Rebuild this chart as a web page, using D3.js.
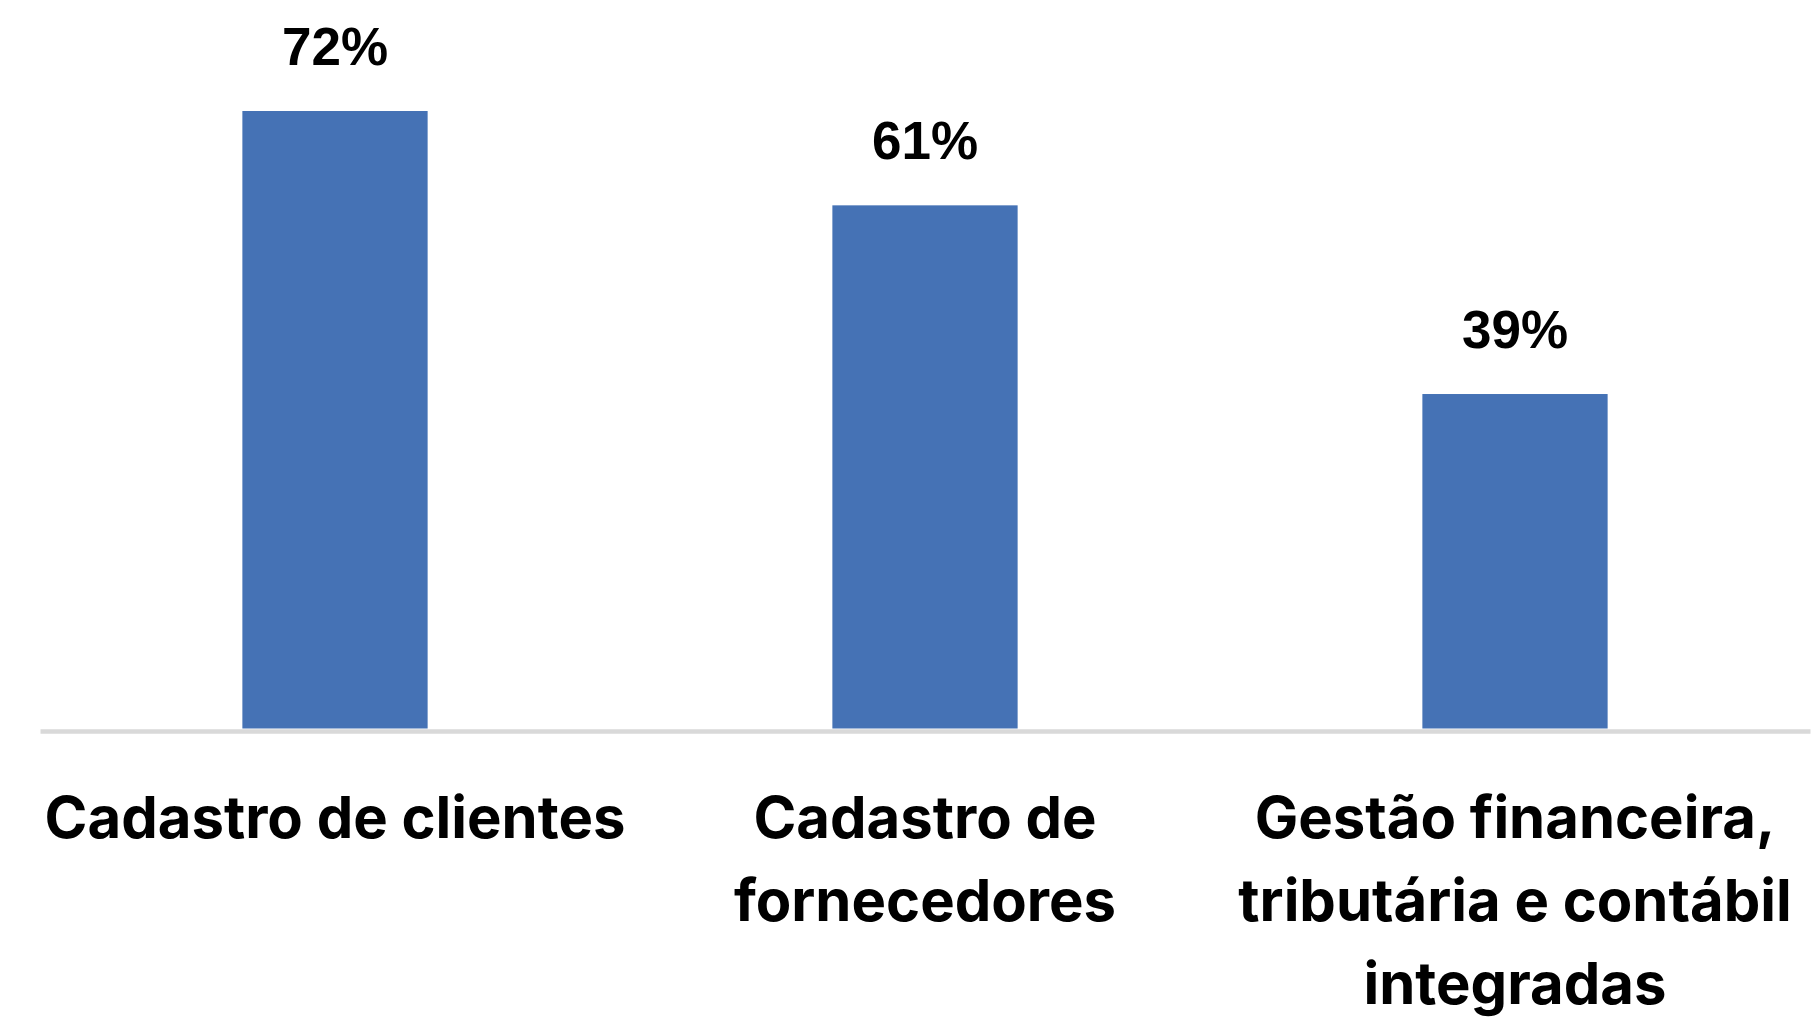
<!DOCTYPE html>
<html>
<head>
<meta charset="utf-8">
<script src="https://cdn.jsdelivr.net/npm/d3@7"></script>
<style>
	html, body { margin: 0; padding: 0; background: #fff; }
	svg { display: block; }
	.cat-label { font-family: Inter, "Noto Sans", sans-serif; font-weight: 700; fill: #000; }
	.val-label { font-family: "Liberation Sans", Arial, sans-serif; font-weight: 700; fill: #000; }
</style>
</head>
<body>
<div id="chart"></div>
<script>
/* global d3 */

var categories = ["Cadastro de clientes", "Cadastro de fornecedores", "Gestão financeira, tributária e contábil integradas"];
var labelLines = [
	["Cadastro de clientes"],
	["Cadastro de", "fornecedores"],
	["Gestão financeira,", "tributária e contábil", "integradas"]
];
var values = [72, 61, 39];

(function() {
	'use strict';

	var width = 1812,
		height = 1017,
		baseY = 728.5,
		barColor = "#4572b5",
		axisColor = "#d9d9d9",
		catFont = 58,
		lineGap = 83,
		valFont = 53;

	var svg = d3.select("#chart").append("svg")
		.attr("width", width)
		.attr("height", height);

	var x = d3.scaleBand()
		.domain(categories)
		.range([40, 1810])
		.paddingInner(0.686)
		.paddingOuter(0.343);

	var y = d3.scaleLinear()
		.domain([0, 72])
		.range([baseY, 111]);

	var data = categories.map(function(c, i) {
		return { cat: c, value: values[i], lines: labelLines[i] };
	});

	// bars
	svg.append("g")
		.selectAll("rect")
		.data(data)
		.join("rect")
		.attr("x", function(d) { return x(d.cat); })
		.attr("y", function(d) { return y(d.value); })
		.attr("width", x.bandwidth())
		.attr("height", function(d) { return y(0) - y(d.value); })
		.attr("fill", barColor);

	// axis (just the baseline)
	var axis = svg.append("g")
		.attr("transform", "translate(0," + (baseY + 2.5) + ")")
		.call(d3.axisBottom(x).tickSize(0).tickSizeOuter(0).tickFormat(""));
	axis.select(".domain")
		.attr("stroke", axisColor)
		.attr("stroke-width", 4.5);
	axis.selectAll(".tick text").remove();

	// category labels, multi-line
	axis.selectAll(".tick")
		.append("text")
		.attr("class", "cat-label")
		.attr("text-anchor", "middle")
		.style("font-size", catFont + "px")
		.each(function(c) {
			var lines = labelLines[categories.indexOf(c)];
			d3.select(this).selectAll("tspan")
				.data(lines)
				.join("tspan")
				.attr("x", 0)
				.attr("y", function(_, i) { return 107 + i * lineGap; })
				.text(function(t) { return t; });
		});

	// value labels
	svg.append("g")
		.selectAll("text")
		.data(data)
		.join("text")
		.attr("class", "val-label")
		.attr("text-anchor", "middle")
		.style("font-size", valFont + "px")
		.attr("x", function(d) { return x(d.cat) + x.bandwidth() / 2; })
		.attr("y", function(d) { return y(d.value) - 46; })
		.text(function(d) { return d.value + "%"; });
})();
</script>
</body>
</html>
